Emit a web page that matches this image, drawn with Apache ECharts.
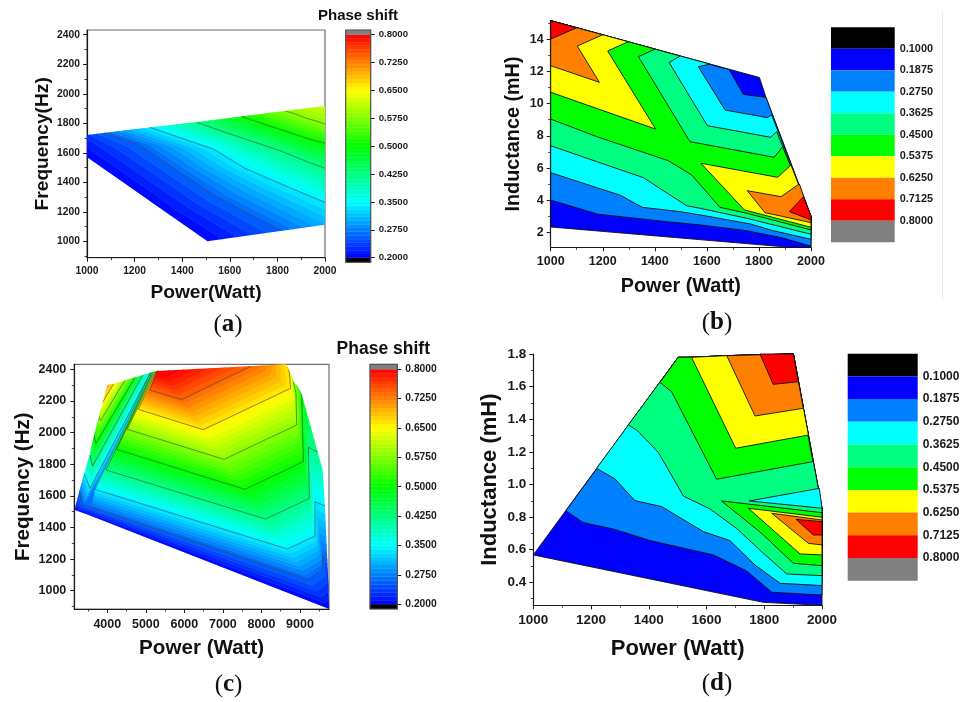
<!DOCTYPE html>
<html><head><meta charset="utf-8">
<style>html,body{margin:0;padding:0;background:#fff}#c{width:963px;height:702px}</style>
<script src="https://cdn.jsdelivr.net/npm/echarts@6/dist/echarts.min.js"></script>
</head><body><div id="c"></div>
<script>
// ---------- tick labels ----------
const xTicksAB = [1000,1200,1400,1600,1800,2000];
const xMinorAB = [1100,1300,1500,1700,1900];
const yFreqTicks = [1000,1200,1400,1600,1800,2000,2200,2400];
const yFreqMinor = [900,1100,1300,1500,1700,1900,2100,2300];
const yIndBTicks = [2,4,6,8,10,12,14];
const yIndBMinor = [3,5,7,9,11,13,15];
const xTicksC = [4000,5000,6000,7000,8000,9000];
const xMinorC = [3500,4500,5500,6500,7500,8500,9500];
const yIndDTicks = [0.4,0.6,0.8,1.0,1.2,1.4,1.6,1.8];
const yIndDMinor = [0.3,0.5,0.7,0.9,1.1,1.3,1.5,1.7];
const barTicksSmooth = [0.2,0.275,0.35,0.425,0.5,0.575,0.65,0.725,0.8];
const barTicksBand = [0.1,0.1875,0.275,0.3625,0.45,0.5375,0.625,0.7125,0.8];
const bandEdges = [0.0125,0.1,0.1875,0.275,0.3625,0.45,0.5375,0.625,0.7125,0.8,0.8875];
const bandColors = ['#000000','#0000ff','#0080ff','#00ffff','#00ff80','#00ff00','#ffff00','#ff8000','#ff0000','#808080'];

// ---------- panel (a): contour polylines (Power, Frequency) ----------
const hullA = [[1000,1720],[2000,1917],[2000,1113],[1506,1000],[1000,1569]];
const a20 = [[901,1720],[1000,1569],[1195,1352],[1335,1190],[1506,1000],[1741,736]];
const a26 = [[1069,1738],[1216,1659],[1377,1483],[1545,1303],[1811,1077],[2035,887]];
const a34 = [[1265,1772],[1531,1625],[1664,1495],[1825,1382],[2000,1264],[2049,1230]];
const a42 = [[1461,1806],[1615,1720],[1811,1614],[1923,1540],[2000,1495],[2049,1461]];
const a50 = [[1650,1845],[1755,1788],[1853,1736],[1923,1698],[2000,1664],[2049,1641]];
const a58 = [[1832,1885],[1881,1860],[1923,1833],[1965,1815],[2000,1795],[2049,1770]];
const a66 = [[1832,2111],[1881,2086],[1923,2059],[1965,2041],[2000,2039],[2049,1996]];
const stripsA = [[0.20,a20,0.26,a26],[0.26,a26,0.34,a34],[0.34,a34,0.42,a42],[0.42,a42,0.50,a50],[0.50,a50,0.58,a58],[0.58,a58,0.66,a66]];
const linesA = [a26,a34,a42,a50,a58];

// ---------- panel (c): contour polylines (Power, Frequency) ----------
const hullC = [[3150,1510],[4000,2301],[4156,2307],[5280,2389],[7789,2421],[8637,2432],[9044,2242],[9589,1763],[9649,1521],[9736,1057],[9753,884]];
const c20 = [[3031,1605],[3161,1510],[3291,1500],[3464,1485],[9753,884],[9822,899],[9909,1015],[9995,1099]];
const c26 = [[3265,1637],[3377,1542],[3490,1534],[3602,1525],[9217,1072],[9580,1135],[9580,1226],[9796,1173]];
const c34 = [[3403,1742],[3550,1647],[5151,2394],[3680,1641],[8672,1264],[9390,1346],[9390,1563],[9736,1527]];
const f34 = c34.slice(0,3);
const f42 = [[3550,1858],[3619,1789],[4952,2379]];
const f50 = [[3654,1985],[3706,1932],[4744,2360]];
const f58 = [[3766,2111],[3827,2075],[4484,2343]];
const f66 = [[3862,2185],[3913,2206],[4173,2311]];
const f74 = [[3723,2322],[3896,2385],[4415,2406]];
const m34 = c34.slice(2);
const m42 = [[5194,2396],[3965,1763],[8109,1453],[9243,1584],[9217,1907],[9606,1858]];
const m50 = [[5237,2400],[4242,1894],[7573,1641],[9087,1816],[9044,2248],[9018,2269]];
const m58 = [[5280,2404],[4519,2021],[7028,1831],[8914,2048],[8896,2248],[8827,2322]];
const m66 = [[5306,2406],[4805,2147],[6491,2018],[8758,2280],[8723,2385],[8654,2438]];
const m74 = [[5324,2408],[5107,2269],[5929,2208],[7832,2432],[7962,2448],[8135,2459]];
const m82 = [[5341,2410],[5350,2406],[5384,2406],[7287,2621],[7616,2628],[8135,2628]];
const stripsC = [[0.20,c20,0.26,c26],[0.26,c26,0.34,c34],
  [0.34,m34,0.42,m42],[0.42,m42,0.50,m50],[0.50,m50,0.58,m58],[0.58,m58,0.66,m66],[0.66,m66,0.74,m74],[0.74,m74,0.82,m82],
  [0.34,f34,0.42,f42],[0.42,f42,0.50,f50],[0.50,f50,0.58,f58],[0.58,f58,0.66,f66],[0.66,f66,0.74,f74]];
const linesC = [c26,c34,f42,f50,f58,f66,m42,m50,m58,m66,m74];

// ---------- panel (b): filled regions [band index, outline] (Power, Inductance) ----------
const lineBa = [[1000,4.02],[1183,3.14],[1446,2.68],[1574,2.48],[1753,2.12],[1881,1.71],[2000,1.17]];
const lineBb = [[1000,5.72],[1177,4.79],[1266,4.33],[1352,3.57],[1497,3.30],[1574,3.10],[1766,2.54],[1855,2.12],[2000,1.59]];
const lineBc = [[1000,7.39],[1177,6.40],[1356,5.41],[1522,3.67],[1574,3.51],[1753,2.89],[2000,1.90]];
const lineBd = [[1000,9.04],[1177,7.95],[1452,6.46],[1542,5.57],[1650,3.57],[1753,3.20],[2000,2.17]];
const regionsB = [
  [1,[[1000,15.14],[1802,11.62],[1827,10.39],[2000,3.0],[2000,1.09],[1919,1.09],[1000,2.35]]],
  [2,lineBa.concat([[2000,3],[1827,10.39],[1740,10.57],[1686,12.1],[1000,15.14]])],
  [3,lineBb.concat([[2000,3],[1849,9.29],[1832,9.13],[1670,9.60],[1567,12.29],[1612,12.45],[1000,15.14]])],
  [4,lineBc.concat([[2000,3],[1868,8.26],[1845,7.91],[1602,8.63],[1455,12.55],[1497,12.95],[1000,15.14]])],
  [5,lineBd.concat([[2000,3],[1891,7.33],[1859,6.67],[1535,7.64],[1337,12.91],[1401,13.38],[1000,15.14]])],
  [6,[[1000,10.70],[1403,8.42],[1219,13.26],[1298,13.84],[1000,15.14]]],
  [7,[[1000,12.35],[1187,11.32],[1102,13.57],[1200,14.27],[1000,15.14]]],
  [8,[[1000,14],[1100,14.70],[1000,15.14]]],
  [6,[[1577,6.30],[1872,5.43],[1923,6.19],[2000,3],[2000,2.33],[1744,3.41]]],
  [7,[[1755,4.60],[1885,4.23],[1955,5.02],[2000,3],[2000,2.62],[1823,3.24]]],
  [8,[[1917,3.30],[1971,4.23],[2000,3],[2000,2.79]]]
];

// ---------- panel (d): filled regions [band index, outline] (Power, Inductance) ----------
const lineDa = [[1113,0.839],[1173,0.766],[1277,0.727],[1404,0.656],[1624,0.568],[1739,0.47],[1826,0.339],[2000,0.322]];
const lineDb = [[1219,1.099],[1283,1.034],[1352,0.901],[1445,0.864],[1589,0.711],[1681,0.656],[1768,0.506],[1855,0.394],[2000,0.38]];
const lineDc = [[1329,1.365],[1358,1.334],[1433,1.197],[1520,0.929],[1612,0.85],[1704,0.731],[1797,0.578],[1878,0.451],[2000,0.441]];
const topD = [[2000,0.854],[1901,1.80],[1670,1.79],[1548,1.78],[1502,1.78]];
const regionsD = [
  [1,[[1000,0.568],[1502,1.78],[1548,1.78],[1670,1.79],[1901,1.80],[2000,0.854],[2000,0.259],[1797,0.277]]],
  [2,lineDa.concat(topD)],
  [3,lineDb.concat(topD)],
  [4,lineDc.concat(topD)],
  [5,[[1439,1.626],[1479,1.569],[1635,1.032],[1968,1.14],[1901,1.80],[1670,1.79],[1548,1.78],[1502,1.78]]],
  [6,[[1548,1.78],[1701,1.222],[1953,1.303],[1901,1.80],[1670,1.79]]],
  [7,[[1670,1.79],[1768,1.42],[1935,1.467],[1901,1.80]]],
  [8,[[1785,1.80],[1831,1.614],[1918,1.63],[1901,1.80]]],
  [3,[[1748,0.899],[1991,0.976],[2000,0.854]]],
  [5,[[1652,0.899],[2000,0.827],[2000,0.502],[1901,0.517],[1791,0.70]]],
  [6,[[1745,0.854],[2000,0.799],[2000,0.568],[1924,0.574]]],
  [7,[[1826,0.823],[2000,0.782],[2000,0.629],[1953,0.639]]],
  [8,[[1910,0.786],[2000,0.772],[2000,0.69],[1970,0.69]]]
];

// ---------- chart assembly ----------
const FONT = 'Liberation Sans', INK = '#1a1a1a', FILL_STEP = 0.012;
function rainbow(z){
  const stops = [[0.2,[0,0,255]],[0.35,[0,255,255]],[0.5,[0,255,0]],[0.65,[255,255,0]],[0.8,[255,0,0]]];
  z = Math.min(0.8, Math.max(0.2, z));
  for (let i=0;i<4;i++){ if (z<=stops[i+1][0]){
    const t=(z-stops[i][0])/0.15, a=stops[i][1], b=stops[i+1][1];
    return 'rgb('+a.map((v,k)=>Math.round(v+(b[k]-v)*t)).join(',')+')'; } }
  return 'rgb(255,0,0)';
}
const opt = {animation:false,backgroundColor:'#fff',grid:[],xAxis:[],yAxis:[],series:[],graphic:[]};

function addPlot(g){
  const gi = opt.grid.length;
  opt.grid.push({left:g.box[0],top:g.box[1],width:g.box[2],height:g.box[3],show:!!g.frame,borderColor:'#6e6e6e',borderWidth:1.2,backgroundColor:'transparent'});
  const xi = opt.xAxis.length, yi = opt.yAxis.length;
  const line = {show:true,onZero:false,lineStyle:{color:INK,width:1.2}};
  opt.xAxis.push({type:'value',gridIndex:gi,position:'bottom',min:g.xr[0],max:g.xr[1],splitLine:{show:false},axisLine:line,
    axisTick:{show:true,customValues:g.xt,length:4,lineStyle:{color:INK,width:1}},
    axisLabel:{show:true,customValues:g.xt,margin:g.lm+1,fontFamily:FONT,fontWeight:'bold',fontSize:g.ls,color:INK,hideOverlap:false,showMinLabel:true,showMaxLabel:true,formatter:v=>String(v)},
    name:g.xn,nameLocation:'middle',nameGap:g.xg,nameTextStyle:{fontFamily:FONT,fontWeight:'bold',fontSize:g.ns[0],color:'#111'}});
  opt.xAxis.push({type:'value',gridIndex:gi,position:'bottom',min:g.xr[0],max:g.xr[1],splitLine:{show:false},axisLine:{show:false,onZero:false},
    axisTick:{show:true,customValues:g.xm,length:2.5,lineStyle:{color:INK,width:0.8}},axisLabel:{show:false}});
  opt.yAxis.push({type:'value',gridIndex:gi,position:'left',min:g.yr[0],max:g.yr[1],splitLine:{show:false},axisLine:line,
    axisTick:{show:true,customValues:g.yt,length:4,lineStyle:{color:INK,width:1}},
    axisLabel:{show:true,customValues:g.yt,margin:g.lm,fontFamily:FONT,fontWeight:'bold',fontSize:g.ls,color:INK,formatter:g.yf||(v=>String(v))},
    name:g.yn,nameLocation:'middle',nameGap:g.yg,nameRotate:90,nameTextStyle:{fontFamily:FONT,fontWeight:'bold',fontSize:g.ns[1],color:'#111'}});
  opt.yAxis.push({type:'value',gridIndex:gi,position:'left',min:g.yr[0],max:g.yr[1],splitLine:{show:false},axisLine:{show:false,onZero:false},
    axisTick:{show:true,customValues:g.ym,length:2.5,lineStyle:{color:INK,width:0.8}},axisLabel:{show:false}});
  return [xi,yi];
}
function smoothSeries(ax,hull,strips,lines){
  const items = [];
  strips.forEach((s,si)=>{
    const n = Math.round((s[2]-s[0])/FILL_STEP);
    for (let k=0;k<n;k++) items.push({si:si,k:k,n:n,z:s[0]+(k+0.5)*(s[2]-s[0])/n});
  });
  lines.forEach(l=>items.push({line:l}));
  opt.series.push({type:'custom',coordinateSystem:'cartesian2d',xAxisIndex:ax[0],yAxisIndex:ax[1],silent:true,clip:false,
    data:items.map((it,i)=>[i,it.z===undefined?0:it.z]),
    renderItem:function(p,api){
      const it = items[p.dataIndex];
      const clip = {type:'polygon',shape:{points:hull.map(v=>api.coord(v))}};
      if (it.line) return {type:'polyline',clipPath:clip,shape:{points:it.line.map(v=>api.coord(v))},style:{fill:null,stroke:'rgba(55,60,60,0.7)',lineWidth:0.8}};
      const s = strips[it.si], c = rainbow(it.z);
      const at = t => s[1].map((v,i)=>[v[0]+(s[3][i][0]-v[0])*t, v[1]+(s[3][i][1]-v[1])*t]);
      const lo = at(it.k/it.n), hi = at((it.k+1)/it.n);
      const pts = lo.concat(hi.reverse()).map(v=>api.coord(v));
      return {type:'polygon',clipPath:clip,shape:{points:pts},style:{fill:c,stroke:c,lineWidth:0.6}};
    }});
}
function regionSeries(ax,regions){
  opt.series.push({type:'custom',coordinateSystem:'cartesian2d',xAxisIndex:ax[0],yAxisIndex:ax[1],silent:true,clip:false,
    data:regions.map((r,i)=>[i,r[0]]),
    renderItem:function(p,api){
      const r = regions[p.dataIndex];
      return {type:'polygon',shape:{points:r[1].map(v=>api.coord(v))},style:{fill:bandColors[r[0]],stroke:'#101010',lineWidth:0.9}};
    }});
}
function smoothBar(box,ls){
  const gi = opt.grid.length;
  opt.grid.push({left:box[0],top:box[1],width:box[2],height:box[3],show:false});
  opt.xAxis.push({type:'value',gridIndex:gi,min:0,max:1,show:false});
  const yi = opt.yAxis.length;
  opt.yAxis.push({type:'value',gridIndex:gi,position:'right',min:0.1876,max:0.8126,splitLine:{show:false},
    axisLine:{show:true,onZero:false,lineStyle:{color:'#555',width:1}},
    axisTick:{show:true,customValues:barTicksSmooth,length:4,lineStyle:{color:INK}},
    axisLabel:{show:true,customValues:barTicksSmooth,margin:8,fontFamily:FONT,fontWeight:'bold',fontSize:ls,color:INK,formatter:v=>v.toFixed(4)}});
  const cells = [[0.1876,0.2,'#000000']];
  for (let i=0;i<60;i++){ const lo=0.2+i*0.01; cells.push([lo,lo+0.01,rainbow(lo+0.005)]); }
  cells.push([0.8,0.8126,'#808080']);
  opt.series.push({type:'custom',coordinateSystem:'cartesian2d',xAxisIndex:opt.xAxis.length-1,yAxisIndex:yi,silent:true,
    data:cells.map((c,i)=>[0,c[0],i]),
    renderItem:function(p,api){
      const c = cells[p.dataIndex], a = api.coord([0,c[0]]), b = api.coord([1,c[1]]);
      return {type:'rect',shape:{x:a[0],y:b[1],width:b[0]-a[0],height:a[1]-b[1]},style:{fill:c[2],stroke:c[2],lineWidth:0.4}};
    }});
  opt.graphic.push({type:'rect',silent:true,z:50,shape:{x:box[0],y:box[1],width:box[2],height:box[3]},style:{fill:null,stroke:'#555',lineWidth:1.2}});
}
function bandBar(box,ls){
  const gi = opt.grid.length;
  opt.grid.push({left:box[0],top:box[1],width:box[2],height:box[3],show:false});
  opt.xAxis.push({type:'value',gridIndex:gi,min:0,max:1,show:false});
  const yi = opt.yAxis.length;
  opt.yAxis.push({type:'value',gridIndex:gi,position:'right',inverse:true,min:bandEdges[0],max:bandEdges[10],splitLine:{show:false},
    axisLine:{show:false,onZero:false},axisTick:{show:false},
    axisLabel:{show:true,customValues:barTicksBand,margin:5,fontFamily:FONT,fontWeight:'bold',fontSize:ls,color:INK,formatter:v=>v.toFixed(4)}});
  opt.series.push({type:'custom',coordinateSystem:'cartesian2d',xAxisIndex:opt.xAxis.length-1,yAxisIndex:yi,silent:true,
    data:bandColors.map((c,i)=>[0,bandEdges[i],i]),
    renderItem:function(p,api){
      const i = p.dataIndex, a = api.coord([0,bandEdges[i]]), b = api.coord([1,bandEdges[i+1]]);
      return {type:'rect',shape:{x:a[0],y:a[1],width:b[0]-a[0],height:b[1]-a[1]},style:{fill:bandColors[i]}};
    }});
}
function panelTag(letter,x,y){
  opt.graphic.push({type:'text',silent:true,x:x,y:y,style:{text:'{n|(}{b|'+letter+'}{n|)}',align:'center',verticalAlign:'middle',
    rich:{n:{fontFamily:'Liberation Serif',fontSize:25,fill:'#111'},b:{fontFamily:'Liberation Serif',fontWeight:'bold',fontSize:25,fill:'#111'}}}});
}
function barTitle(x,y,size){
  opt.graphic.push({type:'text',silent:true,x:x,y:y,style:{text:'Phase shift',align:'center',verticalAlign:'middle',fontFamily:FONT,fontWeight:'bold',fontSize:size,fill:'#111'}});
}

const axA = addPlot({box:[87,30,238,227.7],frame:true,xr:[1000,2000],yr:[889,2432],xt:xTicksAB,xm:xMinorAB,yt:yFreqTicks,ym:yFreqMinor,
  ls:10.3,lm:7,ns:[19.2,19.2],xn:'Power(Watt)',yn:'Frequency(Hz)',xg:26,yg:35});
smoothSeries(axA,hullA,stripsA,linesA);
smoothBar([345.7,30,25,232.3],9.6);
barTitle(358,16,15);

const axB = addPlot({box:[550.7,20.7,260.3,226.6],xr:[1000,2000],yr:[1.09,15.14],xt:xTicksAB,xm:xMinorAB,yt:yIndBTicks,ym:yIndBMinor,
  ls:12.5,lm:7,ns:[19.8,19.8],xn:'Power (Watt)',yn:'Inductance (mH)',xg:29,yg:27});
regionSeries(axB,regionsB);
bandBar([831,27.3,63.7,215],10.9);

const axC = addPlot({box:[74.3,364.3,254.7,244.7],frame:true,xr:[3144,9753],yr:[884,2432],xt:xTicksC,xm:xMinorC,yt:yFreqTicks,ym:yFreqMinor,
  ls:12.5,lm:8,ns:[20.6,20.6],xn:'Power (Watt)',yn:'Frequency (Hz)',xg:29,yg:40.7});
smoothSeries(axC,hullC,stripsC,linesC);
smoothBar([370,364.3,27.3,244.7],10.3);
barTitle(383.3,349,17.5);

const axD = addPlot({box:[533.3,354,288.7,251.3],xr:[1000,2000],yr:[0.259,1.8],xt:xTicksAB,xm:xMinorAB,yt:yIndDTicks,ym:yIndDMinor,
  ls:13.5,lm:7,ns:[22,22],xn:'Power (Watt)',yn:'Inductance (mH)',xg:33,yg:32,yf:v=>v.toFixed(1)});
regionSeries(axD,regionsD);
bandBar([847.7,353.7,70,227],12);

panelTag('a',228,325);
panelTag('b',717,323);
panelTag('c',228.5,685);
panelTag('d',717,684);
opt.graphic.push({type:'line',silent:true,shape:{x1:942.5,y1:11,x2:942.5,y2:300},style:{stroke:'#ececec',lineWidth:1}});

echarts.init(document.getElementById('c'),null,{renderer:'canvas'}).setOption(opt);
</script></body></html>
